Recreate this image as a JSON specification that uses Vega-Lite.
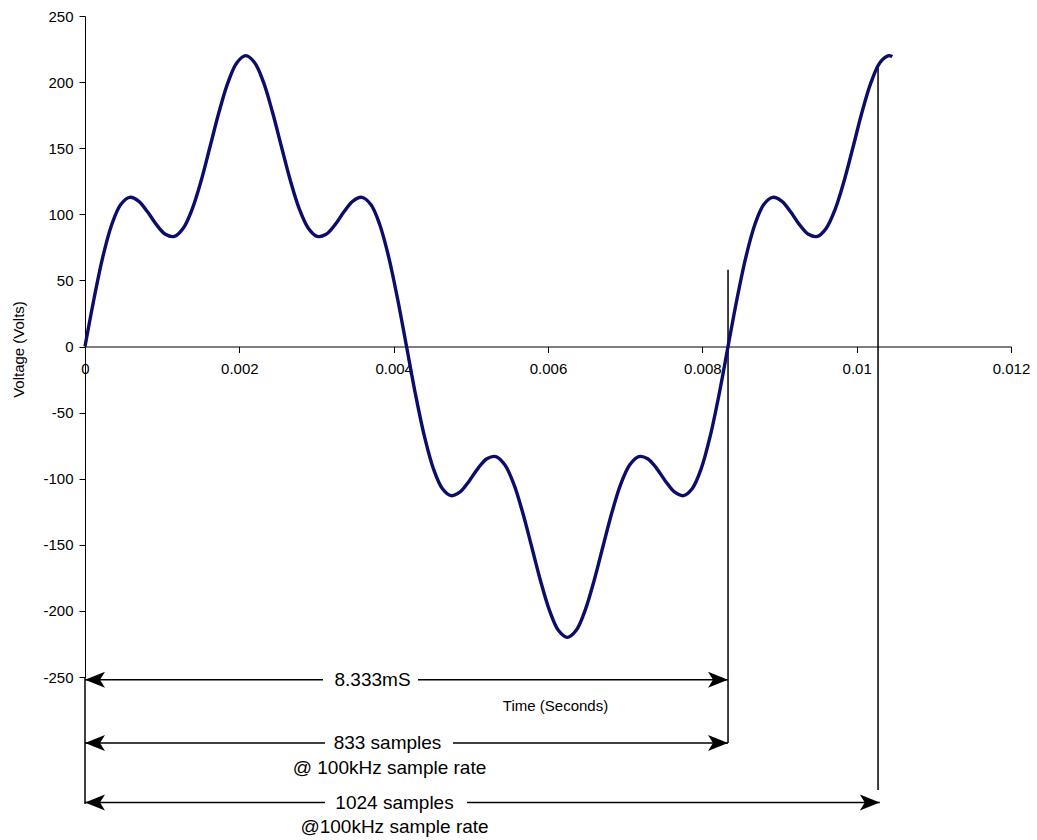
{
  "$schema": "https://vega.github.io/schema/vega-lite/v6.json",
  "width": 926,
  "height": 661,
  "autosize": "none",
  "padding": {"left": 85, "top": 16, "right": 26, "bottom": 163},
  "background": "white",
  "config": {"view": {"stroke": null}, "font": "Liberation Sans"},
  "datasets": {
    "wave": [
      {"t": 0, "v": 0}, {"t": 0.000116, "v": 35.95}, {"t": 0.000231, "v": 67.82}, {"t": 0.000347, "v": 92.3},
      {"t": 0.000463, "v": 107.38}, {"t": 0.000579, "v": 112.81}, {"t": 0.000694, "v": 110}, {"t": 0.00081, "v": 101.87},
      {"t": 0.000926, "v": 92.17}, {"t": 0.001042, "v": 84.85}, {"t": 0.001157, "v": 83.25}, {"t": 0.001273, "v": 89.45},
      {"t": 0.001389, "v": 103.92}, {"t": 0.001505, "v": 125.39}, {"t": 0.00162, "v": 151.07}, {"t": 0.001736, "v": 177.15},
      {"t": 0.001852, "v": 199.56}, {"t": 0.001968, "v": 214.67}, {"t": 0.002083, "v": 220}, {"t": 0.002199, "v": 214.67},
      {"t": 0.002315, "v": 199.56}, {"t": 0.00243, "v": 177.15}, {"t": 0.002546, "v": 151.07}, {"t": 0.002662, "v": 125.39},
      {"t": 0.002778, "v": 103.92}, {"t": 0.002894, "v": 89.45}, {"t": 0.003009, "v": 83.25}, {"t": 0.003125, "v": 84.85},
      {"t": 0.003241, "v": 92.17}, {"t": 0.003356, "v": 101.87}, {"t": 0.003472, "v": 110}, {"t": 0.003588, "v": 112.81},
      {"t": 0.003704, "v": 107.38}, {"t": 0.003819, "v": 92.3}, {"t": 0.003935, "v": 67.82}, {"t": 0.004051, "v": 35.95},
      {"t": 0.004167, "v": 0}, {"t": 0.004282, "v": -35.95}, {"t": 0.004398, "v": -67.82}, {"t": 0.004514, "v": -92.3},
      {"t": 0.00463, "v": -107.38}, {"t": 0.004745, "v": -112.81}, {"t": 0.004861, "v": -110}, {"t": 0.004977, "v": -101.87},
      {"t": 0.005093, "v": -92.17}, {"t": 0.005208, "v": -84.85}, {"t": 0.005324, "v": -83.25}, {"t": 0.00544, "v": -89.45},
      {"t": 0.005556, "v": -103.92}, {"t": 0.005671, "v": -125.39}, {"t": 0.005787, "v": -151.07}, {"t": 0.005903, "v": -177.15},
      {"t": 0.006019, "v": -199.56}, {"t": 0.006134, "v": -214.67}, {"t": 0.00625, "v": -220}, {"t": 0.006366, "v": -214.67},
      {"t": 0.006481, "v": -199.56}, {"t": 0.006597, "v": -177.15}, {"t": 0.006713, "v": -151.07}, {"t": 0.006829, "v": -125.39},
      {"t": 0.006944, "v": -103.92}, {"t": 0.00706, "v": -89.45}, {"t": 0.007176, "v": -83.25}, {"t": 0.007292, "v": -84.85},
      {"t": 0.007407, "v": -92.17}, {"t": 0.007523, "v": -101.87}, {"t": 0.007639, "v": -110}, {"t": 0.007755, "v": -112.81},
      {"t": 0.00787, "v": -107.38}, {"t": 0.007986, "v": -92.3}, {"t": 0.008102, "v": -67.82}, {"t": 0.008218, "v": -35.95},
      {"t": 0.008333, "v": 0}, {"t": 0.008449, "v": 35.95}, {"t": 0.008565, "v": 67.82}, {"t": 0.008681, "v": 92.3},
      {"t": 0.008796, "v": 107.38}, {"t": 0.008912, "v": 112.81}, {"t": 0.009028, "v": 110}, {"t": 0.009144, "v": 101.87},
      {"t": 0.009259, "v": 92.17}, {"t": 0.009375, "v": 84.85}, {"t": 0.009491, "v": 83.25}, {"t": 0.009606, "v": 89.45},
      {"t": 0.009722, "v": 103.92}, {"t": 0.009838, "v": 125.39}, {"t": 0.009954, "v": 151.07}, {"t": 0.010069, "v": 177.15},
      {"t": 0.010185, "v": 199.56}, {"t": 0.010301, "v": 214.67}, {"t": 0.010417, "v": 220}, {"t": 0.01046, "v": 219.2}
    ],
    "lines": [
      {"t": 0, "t2": 0.003084, "v": -252, "v2": -252},
      {"t": 0.004315, "t2": 0.008333, "v": -252, "v2": -252},
      {"t": 0, "t2": 0.00311, "v": -300, "v2": -300},
      {"t": 0.004769, "t2": 0.008333, "v": -300, "v2": -300},
      {"t": 0, "t2": 0.00311, "v": -345, "v2": -345},
      {"t": 0.00495, "t2": 0.0103, "v": -345, "v2": -345},
      {"t": 0.008333, "t2": 0.008333, "v": 58, "v2": -300},
      {"t": 0.010277, "t2": 0.010277, "v": 212, "v2": -335.5},
      {"t": 0, "t2": 0, "v": -250, "v2": -346}
    ],
    "arrows": [
      {"t": 0, "v": -252, "dir": "L"},
      {"t": 0, "v": -300, "dir": "L"},
      {"t": 0, "v": -345, "dir": "L"},
      {"t": 0.008333, "v": -252, "dir": "R"},
      {"t": 0.008333, "v": -300, "dir": "R"},
      {"t": 0.0103, "v": -345, "dir": "R"}
    ],
    "notes": [
      {"t": 0.003726, "v": -252, "label": "8.333mS"},
      {"t": 0.00392, "v": -300, "label": "833 samples"},
      {"t": 0.003946, "v": -319, "label": "@ 100kHz sample rate"},
      {"t": 0.004011, "v": -345, "label": "1024 samples"},
      {"t": 0.004011, "v": -363.5, "label": "@100kHz sample rate"}
    ]
  },
  "encoding": {
    "x": {
      "field": "t", "type": "quantitative",
      "scale": {"domain": [0, 0.012], "nice": false, "zero": false},
      "axis": {
        "title": "Time (Seconds)",
        "values": [0, 0.002, 0.004, 0.006, 0.008, 0.01, 0.012],
        "format": "~g",
        "offset": -330.5,
        "grid": false,
        "domainColor": "black",
        "tickColor": "black",
        "tickSize": 6,
        "labelFontSize": 15,
        "labelColor": "black",
        "labelPadding": 9,
        "labelFlush": false,
        "labelOverlap": false,
        "titleFontSize": 15,
        "titleFontWeight": "normal",
        "titleColor": "black",
        "titleX": 470,
        "titleY": 358.5,
        "titleAlign": "center",
        "titleBaseline": "middle"
      }
    },
    "y": {
      "field": "v", "type": "quantitative",
      "scale": {"domain": [-250, 250], "nice": false, "zero": false},
      "axis": {
        "title": "Voltage (Volts)",
        "values": [-250, -200, -150, -100, -50, 0, 50, 100, 150, 200, 250],
        "labelExpr": "'' + datum.value",
        "grid": false,
        "domainColor": "black",
        "tickColor": "black",
        "tickSize": 6,
        "labelFontSize": 15,
        "labelColor": "black",
        "labelPadding": 6,
        "labelOverlap": false,
        "titleFontSize": 15,
        "titleFontWeight": "normal",
        "titleColor": "black",
        "titleX": -67,
        "titleY": 333,
        "titleAlign": "center",
        "titleBaseline": "middle"
      }
    }
  },
  "layer": [
    {
      "data": {"name": "lines"},
      "mark": {"type": "rule", "color": "black", "strokeWidth": 1.5},
      "encoding": {"x2": {"field": "t2"}, "y2": {"field": "v2"}}
    },
    {
      "data": {"name": "wave"},
      "mark": {"type": "line", "interpolate": "catmull-rom", "color": "#0c0c6a", "strokeWidth": 3.4}
    },
    {
      "data": {"name": "arrows"},
      "mark": {"type": "point", "filled": true, "color": "black", "opacity": 1, "size": 400, "strokeWidth": 0},
      "encoding": {
        "shape": {
          "field": "dir", "type": "nominal",
          "scale": {"domain": ["L", "R"], "range": ["M0,0L2,-0.8L1.5,0L2,0.8Z", "M0,0L-2,-0.8L-1.5,0L-2,0.8Z"]},
          "legend": null
        }
      }
    },
    {
      "data": {"name": "notes"},
      "mark": {"type": "text", "fontSize": 19, "color": "black", "align": "center", "baseline": "middle"},
      "encoding": {"text": {"field": "label", "type": "nominal"}}
    }
  ]
}
